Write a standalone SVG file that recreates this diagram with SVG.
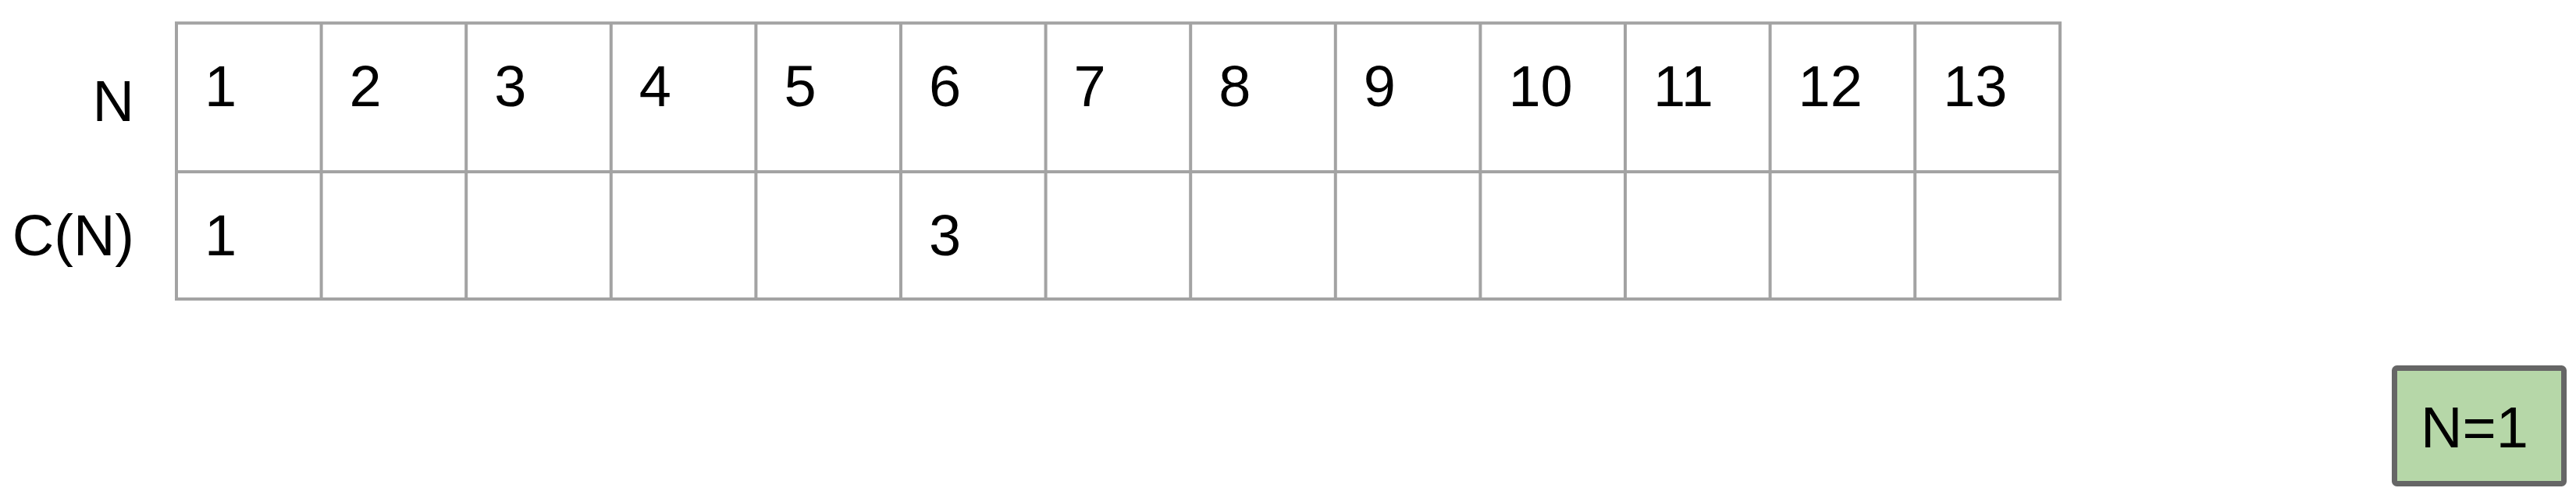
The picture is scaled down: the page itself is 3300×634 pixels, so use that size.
<svg xmlns="http://www.w3.org/2000/svg" width="3300" height="634" viewBox="0 0 3300 634">
<style>
.grid{fill:none;stroke:#a3a3a3;stroke-width:4}
.t{font-family:"Liberation Sans",Arial,sans-serif;font-size:74px;fill:#000}
.box{fill:#b6d7a8;stroke:#666666;stroke-width:7}
</style>
<rect width="3300" height="634" fill="#ffffff"/>
<g id="labels">
<text class="t" x="172" y="155" text-anchor="end">N</text>
<text class="t" x="172" y="327" text-anchor="end">C(N)</text>
</g>
<g id="table">
<rect class="grid" x="226" y="29.5" width="2413" height="353.5"/>
<line class="grid" x1="226" y1="220" x2="2639" y2="220"/>
<path class="grid" d="M411.6 29.5V383M597.2 29.5V383M782.8 29.5V383M968.4 29.5V383M1154 29.5V383M1339.6 29.5V383M1525.2 29.5V383M1710.8 29.5V383M1896.4 29.5V383M2082 29.5V383M2267.6 29.5V383M2453.2 29.5V383"/>
<g id="row-n">
<text class="t" x="262" y="136">1</text>
<text class="t" x="447.6" y="136">2</text>
<text class="t" x="633.2" y="136">3</text>
<text class="t" x="818.8" y="136">4</text>
<text class="t" x="1004.4" y="136">5</text>
<text class="t" x="1190" y="136">6</text>
<text class="t" x="1375.6" y="136">7</text>
<text class="t" x="1561.2" y="136">8</text>
<text class="t" x="1746.8" y="136">9</text>
<text class="t" x="1932.4" y="136">10</text>
<text class="t" x="2118" y="136">11</text>
<text class="t" x="2303.6" y="136">12</text>
<text class="t" x="2489.2" y="136">13</text>
</g>
<g id="row-c">
<text class="t" x="262" y="327">1</text>
<text class="t" x="1190" y="327">3</text>
</g>
</g>
<g id="node-n1">
<rect class="box" x="3067.5" y="471.5" width="217" height="148" rx="3"/>
<text class="t" x="3170" y="573" text-anchor="middle">N=1</text>
</g>
<g id="connectors"></g>
</svg>
